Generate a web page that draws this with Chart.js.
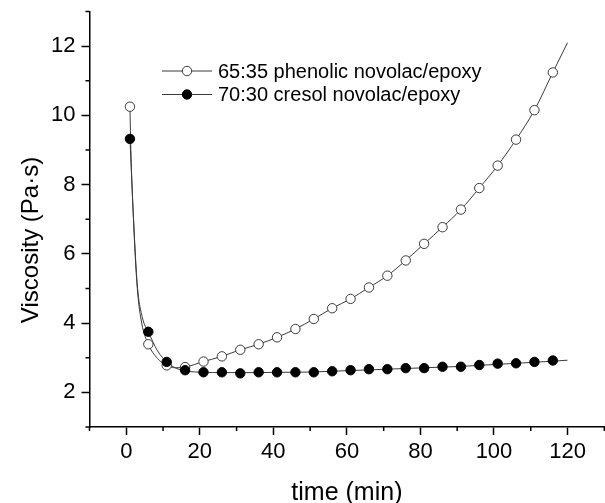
<!DOCTYPE html>
<html>
<head>
<meta charset="utf-8">
<script src="https://cdn.jsdelivr.net/npm/chart.js@4"></script>
<style>
  html, body { margin: 0; background: #fff; overflow: hidden; }
  #ChartVisc { display: block; }
</style>
</head>
<body>
<canvas id="ChartVisc" width="610" height="503"></canvas>
<script>
// measured points (min)
var time = [1, 6, 11, 16, 21, 26, 31, 36, 41, 46, 51, 56, 61, 66, 71, 76, 81, 86, 91, 96, 101, 106, 111, 116];
var phenolic = [10.25, 3.39, 2.78, 2.73, 2.89, 3.04, 3.23, 3.39, 3.59, 3.83, 4.12, 4.43, 4.70, 5.03, 5.37, 5.81, 6.29, 6.77, 7.28, 7.90, 8.55, 9.30, 10.15, 11.24];
var cresol = [9.32, 3.75, 2.88, 2.64, 2.58, 2.58, 2.55, 2.58, 2.58, 2.58, 2.58, 2.61, 2.64, 2.67, 2.67, 2.70, 2.70, 2.74, 2.74, 2.79, 2.83, 2.84, 2.88, 2.92];

// fitted curves
var phenolicFitTime = [1, 1.2, 2, 3, 4.2, 6, 8.5, 11, 13.5, 16, 21, 26, 31, 36, 41, 46, 51, 56, 61, 66, 71, 76, 81, 86, 91, 96, 101, 106, 111, 116, 120];
var phenolicFit = [10.25, 9.2, 6.9, 5.0, 4.0, 3.39, 2.98, 2.78, 2.71, 2.73, 2.89, 3.04, 3.23, 3.39, 3.59, 3.83, 4.12, 4.43, 4.70, 5.03, 5.37, 5.81, 6.29, 6.77, 7.28, 7.90, 8.55, 9.30, 10.15, 11.24, 12.1];
var cresolFitTime = [1, 2, 3, 4.4, 6, 8.5, 11, 13.5, 16, 21, 26, 31, 36, 41, 46, 51, 56, 61, 66, 71, 76, 81, 86, 91, 96, 101, 106, 111, 116, 120];
var cresolFit = [9.32, 6.95, 5.1, 4.15, 3.75, 3.2, 2.88, 2.7, 2.62, 2.58, 2.57, 2.57, 2.57, 2.58, 2.58, 2.59, 2.61, 2.63, 2.65, 2.67, 2.69, 2.71, 2.73, 2.75, 2.78, 2.81, 2.84, 2.87, 2.90, 2.93];

var xTicks = [0, 20, 40, 60, 80, 100, 120];
var yTicks = [2, 4, 6, 8, 10, 12];
var seriesNames = ['65:35 phenolic novolac/epoxy', '70:30 cresol novolac/epoxy'];
var yTitle = 'Viscosity (Pa·s)';

function pairs(xs, ys) {
  var out = [];
  for (var i in xs) {
    out.push({x: xs[i], y: ys[i]});
  }
  return out;
}

var lineCol = '#3a3a3a';
var fontName = "'Liberation Sans', Arial, sans-serif";

// short minor ticks, y title and legend
var extras = {
  id: 'extras',
  afterDraw: function(chart) {
    var ctx = chart.ctx;
    var xs = chart.scales.x;
    var ys = chart.scales.y;
    var area = chart.chartArea;
    ctx.save();
    ctx.strokeStyle = '#000';
    ctx.lineWidth = 1.5;
    ctx.beginPath();
    xs.ticks.forEach(function(t) {
      if (xTicks.indexOf(t.value) < 0) {
        var px = xs.getPixelForValue(t.value);
        ctx.moveTo(px, area.bottom);
        ctx.lineTo(px, area.bottom + 4);
      }
    });
    ys.ticks.forEach(function(t) {
      if (yTicks.indexOf(t.value) < 0) {
        var py = ys.getPixelForValue(t.value);
        ctx.moveTo(area.left, py);
        ctx.lineTo(area.left - 4, py);
      }
    });
    ctx.stroke();

    ctx.save();
    ctx.translate(31, 240);
    ctx.rotate(-Math.PI / 2);
    ctx.font = '24px ' + fontName;
    ctx.fillStyle = '#000';
    ctx.textAlign = 'center';
    ctx.textBaseline = 'middle';
    ctx.fillText(yTitle, 0, 0);
    ctx.restore();

    var rows = [71, 94.5];
    ctx.font = '20px ' + fontName;
    ctx.textBaseline = 'middle';
    ctx.textAlign = 'left';
    for (var i = 0; i < 2; i++) {
      ctx.strokeStyle = lineCol;
      ctx.lineWidth = 1;
      ctx.beginPath();
      ctx.moveTo(162, rows[i]);
      ctx.lineTo(212, rows[i]);
      ctx.stroke();
      ctx.beginPath();
      ctx.arc(187, rows[i], 4.7, 0, Math.PI * 2);
      ctx.fillStyle = i == 0 ? '#fff' : '#000';
      ctx.fill();
      ctx.strokeStyle = i == 0 ? lineCol : '#000';
      ctx.stroke();
      ctx.fillStyle = '#000';
      ctx.fillText(seriesNames[i], 218, rows[i] + 1);
    }
    ctx.restore();
  }
};

var ctx = document.getElementById('ChartVisc').getContext('2d');
var viscChart = new Chart(ctx, {
  type: 'line',
  data: {
    datasets: [
      {
        label: seriesNames[1],
        data: pairs(time, cresol),
        showLine: false,
        pointRadius: 4.7,
        pointBackgroundColor: '#000',
        pointBorderColor: '#000',
        pointBorderWidth: 1,
        order: 0
      },
      {
        label: seriesNames[0],
        data: pairs(time, phenolic),
        showLine: false,
        pointRadius: 4.7,
        pointBackgroundColor: '#fff',
        pointBorderColor: lineCol,
        pointBorderWidth: 1,
        order: 1
      },
      {
        label: 'fit cresol',
        data: pairs(cresolFitTime, cresolFit),
        borderColor: lineCol,
        borderWidth: 1,
        pointRadius: 0,
        cubicInterpolationMode: 'monotone',
        fill: false,
        order: 2
      },
      {
        label: 'fit phenolic',
        data: pairs(phenolicFitTime, phenolicFit),
        borderColor: lineCol,
        borderWidth: 1,
        pointRadius: 0,
        cubicInterpolationMode: 'monotone',
        fill: false,
        order: 3
      }
    ]
  },
  options: {
    responsive: false,
    animation: false,
    layout: { padding: { left: 0, right: 0, top: 11.5, bottom: 0 } },
    plugins: {
      legend: { display: false },
      tooltip: { enabled: false }
    },
    scales: {
      x: {
        type: 'linear',
        min: -10,
        max: 130,
        afterFit: function(scale) {
          scale.height = 76;
          scale.paddingLeft = 0;
          scale.paddingRight = 0;
        },
        border: { display: true, color: '#000', width: 1.5 },
        grid: {
          drawOnChartArea: false,
          tickLength: 8,
          tickWidth: 1.5,
          tickColor: function(c) { return xTicks.indexOf(c.tick.value) >= 0 ? '#000' : 'rgba(0,0,0,0)'; }
        },
        ticks: {
          stepSize: 10,
          autoSkip: false,
          maxRotation: 0,
          color: '#000',
          padding: 4,
          font: { family: fontName, size: 22 },
          callback: function(v) { return xTicks.indexOf(v) >= 0 ? v : ''; }
        },
        title: {
          display: true,
          text: 'time (min)',
          color: '#000',
          font: { family: fontName, size: 25, lineHeight: 1 },
          padding: { top: 0, bottom: -3 }
        }
      },
      y: {
        min: 1,
        max: 13,
        afterFit: function(scale) {
          scale.width = 89.5;
          scale.paddingTop = 0;
          scale.paddingBottom = 0;
        },
        border: { display: true, color: '#000', width: 1.5 },
        grid: {
          drawOnChartArea: false,
          tickLength: 8,
          tickWidth: 1.5,
          tickColor: function(c) { return yTicks.indexOf(c.tick.value) >= 0 ? '#000' : 'rgba(0,0,0,0)'; }
        },
        ticks: {
          stepSize: 1,
          autoSkip: false,
          color: '#000',
          padding: 6,
          font: { family: fontName, size: 22 },
          callback: function(v) { return yTicks.indexOf(v) >= 0 ? v : ''; }
        }
      }
    }
  },
  plugins: [extras]
});
</script>
</body>
</html>
